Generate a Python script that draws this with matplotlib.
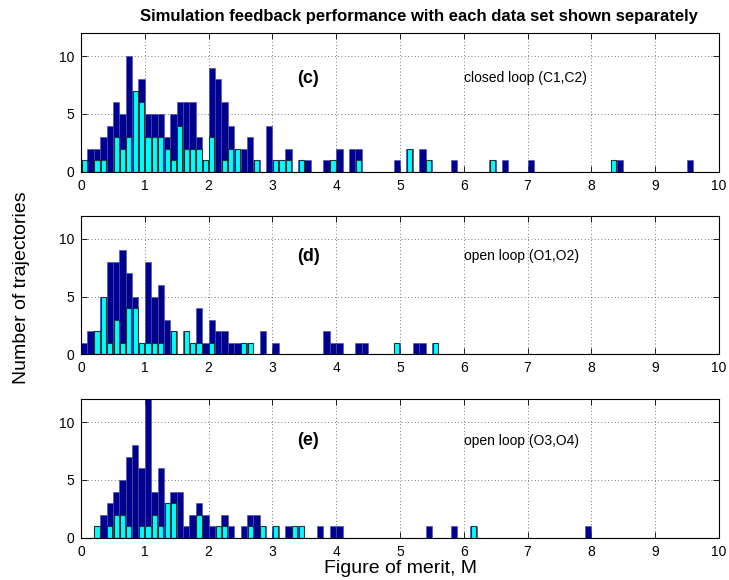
import numpy as np
import matplotlib
matplotlib.use('Agg')
import matplotlib.pyplot as plt

plt.rcParams['font.family'] = ['Liberation Sans', 'DejaVu Sans']

# Histogram bins: width 0.1 from 0 to 10
bin_width = 0.1
bin_centers = np.round(np.arange(100) * bin_width + bin_width / 2, 2)

# Panel (c) closed loop
c_navy = ([1, 2, 2, 3, 4, 6, 5, 10, 7, 8, 5, 5, 5, 3, 5, 6, 6, 6, 3, 1]
          + [9, 8, 6, 4, 2, 2, 3, 1, 0, 4, 1, 1, 2, 0, 1, 1, 0, 0, 1, 1]
          + [2, 0, 2, 2, 0, 0, 0, 0, 0, 1, 0, 2, 0, 2, 1, 0, 0, 0, 1, 0]
          + [0, 0, 0, 0, 1, 0, 1, 0, 0, 0, 1, 0, 0, 0, 0, 0, 0, 0, 0, 0]
          + [0, 0, 0, 1, 1, 0, 0, 0, 0, 0, 0, 0, 0, 0, 0, 1, 0, 0, 0, 0])
c_cyan = ([1, 0, 1, 1, 0, 3, 2, 3, 7, 6, 3, 3, 3, 2, 1, 4, 2, 2, 2, 1]
          + [3, 0, 1, 2, 2, 0, 0, 1, 0, 0, 1, 1, 1, 0, 1, 0, 0, 0, 0, 1]
          + [0, 0, 0, 1, 0, 0, 0, 0, 0, 0, 0, 2, 0, 0, 1, 0, 0, 0, 0, 0]
          + [0, 0, 0, 0, 1, 0, 0, 0, 0, 0, 0, 0, 0, 0, 0, 0, 0, 0, 0, 0]
          + [0, 0, 0, 1, 0, 0, 0, 0, 0, 0, 0, 0, 0, 0, 0, 0, 0, 0, 0, 0])

# Panel (d) open loop O1,O2
d_navy = ([1, 2, 2, 5, 8, 8, 9, 7, 5, 1, 8, 5, 6, 3, 2, 0, 2, 1, 4, 1]
          + [3, 2, 2, 1, 1, 1, 1, 0, 2, 0, 1, 0, 0, 0, 0, 0, 0, 0, 2, 1]
          + [1, 0, 0, 1, 1, 0, 0, 0, 0, 1, 0, 0, 1, 1, 0, 1, 0, 0, 0, 0]
          + [0] * 20
          + [0] * 20)
d_cyan = ([0, 0, 2, 5, 1, 3, 1, 4, 4, 1, 1, 1, 1, 0, 2, 0, 2, 1, 1, 0]
          + [1, 0, 0, 0, 0, 1, 1, 0, 0, 0, 0, 0, 0, 0, 0, 0, 0, 0, 0, 0]
          + [0, 0, 0, 0, 0, 0, 0, 0, 0, 1, 0, 0, 0, 0, 0, 1, 0, 0, 0, 0]
          + [0] * 20
          + [0] * 20)

# Panel (e) open loop O3,O4
e_navy = ([0, 0, 1, 2, 3, 4, 5, 7, 8, 6, 12, 4, 6, 3, 4, 4, 1, 2, 3, 2]
          + [1, 1, 2, 1, 0, 1, 2, 2, 1, 0, 1, 0, 1, 1, 1, 0, 0, 1, 0, 1]
          + [1, 0, 0, 0, 0, 0, 0, 0, 0, 0, 0, 0, 0, 0, 1, 0, 0, 0, 1, 0]
          + [0, 1, 0, 0, 0, 0, 0, 0, 0, 0, 0, 0, 0, 0, 0, 0, 0, 0, 0, 1]
          + [0] * 20)
e_cyan = ([0, 0, 1, 0, 1, 2, 2, 1, 0, 1, 1, 2, 1, 3, 3, 0, 0, 0, 2, 0]
          + [0, 1, 1, 0, 0, 0, 1, 0, 1, 0, 1, 0, 0, 1, 1, 0, 0, 0, 0, 0]
          + [0] * 20
          + [0, 1, 0, 0, 0, 0, 0, 0, 0, 0, 0, 0, 0, 0, 0, 0, 0, 0, 0, 0]
          + [0] * 20)

panel_tags = ['(c)', '(d)', '(e)']
panel_labels = ['closed loop (C1,C2)', 'open loop (O1,O2)', 'open loop (O3,O4)']
label_y = [8.1, 8.5, 8.4]
navy_sets = [c_navy, d_navy, e_navy]
cyan_sets = [c_cyan, d_cyan, e_cyan]
x_ticks = [0, 1, 2, 3, 4, 5, 6, 7, 8, 9, 10]
y_ticks = [0, 5, 10]

W, H = 729, 580
fig = plt.figure(figsize=(W / 100, H / 100), dpi=100)

left = 81 / W
width = (719 - 81) / W
bottoms_px = [171.7, 354.3, 537.7]
height = 138.6 / H

navy_col = '#00008f'
cyan_col = '#00ffff'

for i in range(3):
    ax = fig.add_axes([left, 1 - bottoms_px[i] / H, width, height])
    ax.bar(bin_centers, navy_sets[i], width=bin_width, color=navy_col,
           edgecolor='#4a4ab0', linewidth=0.4, zorder=2)
    ax.bar(bin_centers, cyan_sets[i], width=0.08, color=cyan_col,
           edgecolor='#103838', linewidth=0.8, zorder=3)
    ax.set_xlim(0, 10)
    ax.set_ylim(0, 12)
    ax.set_xticks(x_ticks)
    ax.set_yticks(y_ticks)
    ax.tick_params(direction='in', top=True, right=True, length=4, width=0.6,
                   labelsize=10, pad=5)
    ax.grid(True, linestyle=(0, (1, 3)), color='0.3', linewidth=0.6, zorder=1)
    ax.set_axisbelow(True)
    for s in ax.spines.values():
        s.set_linewidth(0.8)
        s.set_zorder(5)
    ax.text(3.38, label_y[i], panel_tags[i], fontsize=13, fontweight='bold',
            ha='left', va='center', zorder=6)
    ax.text(6.0, label_y[i], panel_labels[i], fontsize=10,
            ha='left', va='center', zorder=6)
    if i == 2:
        ax.set_xlabel('Figure of merit, M', fontsize=14, labelpad=1)

fig.text(419 / W, 1 - 16 / H,
         'Simulation feedback performance with each data set shown separately',
         fontsize=12, fontweight='bold', ha='center', va='center')
fig.text(22 / W, 1 - 288 / H, 'Number of trajectories', fontsize=14,
         rotation=90, ha='center', va='center')

fig.savefig('out.png', dpi=100)
